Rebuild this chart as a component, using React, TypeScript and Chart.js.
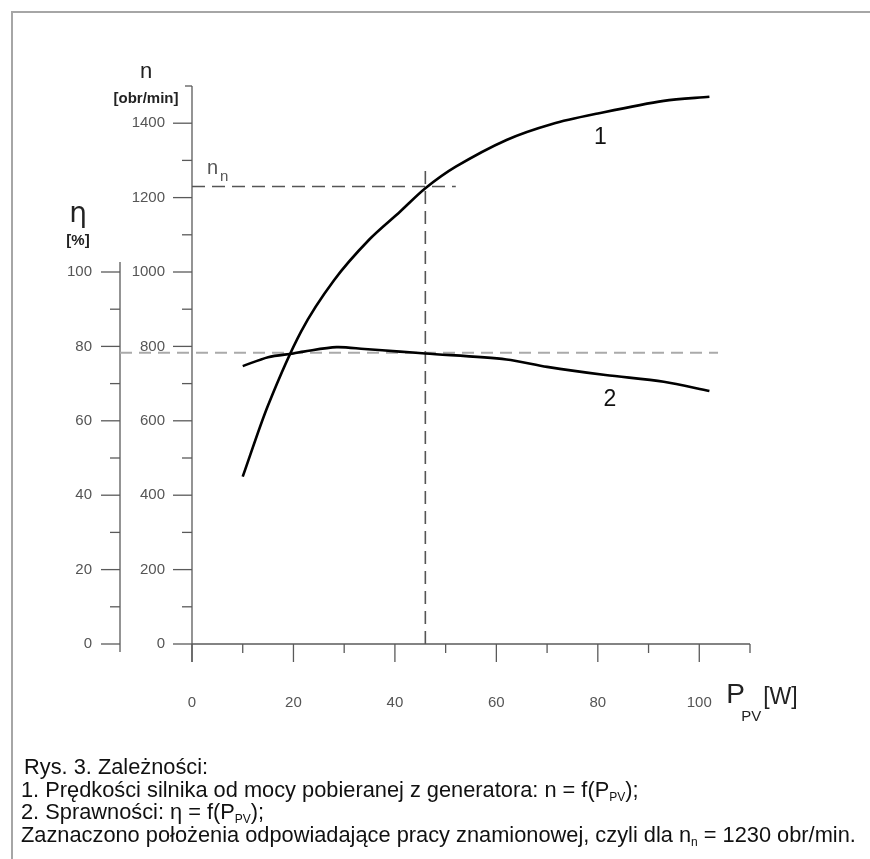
import React, { useEffect, useRef } from "react";
import { Chart, registerables } from "chart.js";

Chart.register(...registerables);

// ---- data ----
// curve 1: motor speed n [obr/min] vs P_PV [W]
const powerN = [10, 15, 21.5, 28, 35, 41, 46, 52, 62, 71, 80, 93, 102];
const speedN = [450, 642, 840, 978, 1088, 1162, 1225, 1283, 1355, 1398, 1426, 1460, 1471];
// curve 2: efficiency eta [%] vs P_PV [W]
const powerEta = [10, 15, 20, 22, 28.5, 34, 41, 46, 62, 70, 81.5, 93, 102];
const efficiency = [74.7, 77.1, 78.1, 78.6, 79.8, 79.3, 78.6, 78.1, 76.5, 74.5, 72.3, 70.5, 68.0];

// tick labels
const xMajorTicks = [0, 20, 40, 60, 80, 100];
const xMinorTicks = [10, 30, 50, 70, 90, 110];
const nMajorTicks = [0, 200, 400, 600, 800, 1000, 1200, 1400];
const nMinorTicks = [100, 300, 500, 700, 900, 1100, 1300];
const etaMajorTicks = [0, 20, 40, 60, 80, 100];
const etaMinorTicks = [10, 30, 50, 70, 90];

// nominal operating point
const nNominal = 1230;
const pNominal = 46;
const pNominalLineEnd = 52;
const nNominalLineTop = 1290;
const etaNominal = 78.3;
const etaLineEnd = 103.7;

const AXIS_COLOR = "#5a5a5a";
const LABEL_COLOR = "#555";
const FONT = '"Liberation Sans", Arial, sans-serif';

const axesPlugin = {
  id: "customAxes",
  beforeDatasetsDraw(chart: any) {
    const ctx = chart.ctx as CanvasRenderingContext2D;
    const xs = chart.scales.x;
    const ys = chart.scales.y;
    const es = chart.scales.yEta;
    const x0 = xs.getPixelForValue(0);
    const y0 = ys.getPixelForValue(0);
    const etaX = x0 - 72;

    ctx.save();
    ctx.strokeStyle = AXIS_COLOR;
    ctx.lineWidth = 1.3;
    const line = (ax: number, ay: number, bx: number, by: number) => {
      ctx.beginPath();
      ctx.moveTo(ax, ay);
      ctx.lineTo(bx, by);
      ctx.stroke();
    };

    // x axis
    line(x0, y0, xs.getPixelForValue(110), y0);
    xMajorTicks.forEach((v) => line(xs.getPixelForValue(v), y0, xs.getPixelForValue(v), y0 + 18));
    xMinorTicks.forEach((v) => line(xs.getPixelForValue(v), y0, xs.getPixelForValue(v), y0 + 9));

    // n axis
    const nTop = ys.getPixelForValue(1500);
    line(x0, y0 + 18, x0, nTop);
    line(x0 - 7, nTop, x0, nTop);
    nMajorTicks.forEach((v) => line(x0 - 19, ys.getPixelForValue(v), x0, ys.getPixelForValue(v)));
    nMinorTicks.forEach((v) => line(x0 - 10, ys.getPixelForValue(v), x0, ys.getPixelForValue(v)));

    // eta axis
    line(etaX, y0 + 8, etaX, es.getPixelForValue(102.7));
    etaMajorTicks.forEach((v) => line(etaX - 19, es.getPixelForValue(v), etaX, es.getPixelForValue(v)));
    etaMinorTicks.forEach((v) => line(etaX - 10, es.getPixelForValue(v), etaX, es.getPixelForValue(v)));

    // tick labels
    ctx.fillStyle = LABEL_COLOR;
    ctx.font = `15px ${FONT}`;
    ctx.textBaseline = "middle";
    ctx.textAlign = "center";
    xMajorTicks.forEach((v) => ctx.fillText(String(v), xs.getPixelForValue(v), y0 + 59));
    ctx.textAlign = "right";
    nMajorTicks.forEach((v) => ctx.fillText(String(v), x0 - 27, ys.getPixelForValue(v)));
    etaMajorTicks.forEach((v) => ctx.fillText(String(v), etaX - 28, es.getPixelForValue(v)));

    // reference dashed lines
    ctx.strokeStyle = "#555";
    ctx.lineWidth = 1.6;
    ctx.setLineDash([13, 7]);
    line(x0, ys.getPixelForValue(nNominal), xs.getPixelForValue(pNominalLineEnd), ys.getPixelForValue(nNominal));
    line(xs.getPixelForValue(pNominal), y0, xs.getPixelForValue(pNominal), ys.getPixelForValue(nNominalLineTop));
    ctx.strokeStyle = "#aaa";
    ctx.lineWidth = 2;
    ctx.setLineDash([12, 7]);
    line(etaX, es.getPixelForValue(etaNominal), xs.getPixelForValue(etaLineEnd), es.getPixelForValue(etaNominal));
    ctx.setLineDash([]);

    // axis titles
    ctx.fillStyle = "#222";
    ctx.textAlign = "center";
    ctx.textBaseline = "middle";
    ctx.font = `22px ${FONT}`;
    ctx.fillText("n", x0 - 46, nTop - 14);
    ctx.font = `bold 15px ${FONT}`;
    ctx.fillText("[obr/min]", x0 - 46, nTop + 13);
    ctx.font = `28px "DejaVu Sans", ${FONT}`;
    ctx.fillText("η", etaX - 42, es.getPixelForValue(115.5));
    ctx.font = `bold 15px ${FONT}`;
    ctx.fillText("[%]", etaX - 42, es.getPixelForValue(108.5));

    // n_n label
    ctx.fillStyle = LABEL_COLOR;
    ctx.textAlign = "left";
    ctx.textBaseline = "alphabetic";
    ctx.font = `20px ${FONT}`;
    ctx.fillText("n", x0 + 15, ys.getPixelForValue(nNominal) - 12);
    ctx.font = `15px ${FONT}`;
    ctx.fillText("n", x0 + 28, ys.getPixelForValue(nNominal) - 5);

    // curve numbers
    ctx.fillStyle = "#111";
    ctx.textAlign = "center";
    ctx.textBaseline = "middle";
    ctx.font = `23px ${FONT}`;
    ctx.fillText("1", xs.getPixelForValue(80.5), ys.getPixelForValue(1362));
    ctx.fillText("2", xs.getPixelForValue(82.4), es.getPixelForValue(65.6));

    // P_PV [W]
    ctx.fillStyle = "#222";
    ctx.textAlign = "left";
    ctx.textBaseline = "alphabetic";
    ctx.font = `28px ${FONT}`;
    const px = xs.getPixelForValue(105.3);
    ctx.fillText("P", px, y0 + 59);
    ctx.font = `15px ${FONT}`;
    ctx.fillText("PV", px + 15, y0 + 77);
    ctx.font = `23px ${FONT}`;
    ctx.fillText("[W]", px + 37, y0 + 60);
    ctx.restore();
  },
};

function ChartCanvas() {
  const ref = useRef<HTMLCanvasElement | null>(null);
  useEffect(() => {
    if (!ref.current) return;
    const chart = new Chart(ref.current, {
      type: "line",
      data: {
        datasets: [
          {
            label: "n = f(P_PV)",
            data: powerN.map((x, i) => ({ x, y: speedN[i] })),
            yAxisID: "y",
            borderColor: "#000",
            borderWidth: 2.6,
            pointRadius: 0,
            tension: 0.3,
            fill: false,
          },
          {
            label: "η = f(P_PV)",
            data: powerEta.map((x, i) => ({ x, y: efficiency[i] })),
            yAxisID: "yEta",
            borderColor: "#000",
            borderWidth: 2.6,
            pointRadius: 0,
            tension: 0.3,
            fill: false,
          },
        ],
      },
      options: {
        responsive: false,
        maintainAspectRatio: false,
        animation: false,
        devicePixelRatio: 1,
        layout: { padding: { left: 192, right: 120, top: 86, bottom: 215 } },
        plugins: { legend: { display: false }, title: { display: false }, tooltip: { enabled: false } },
        events: [],
        scales: {
          x: { type: "linear", min: 0, max: 110, display: false },
          y: { type: "linear", min: 0, max: 1500, display: false },
          yEta: { type: "linear", min: 0, max: 150, display: false },
        },
      },
      plugins: [axesPlugin],
    });
    return () => chart.destroy();
  }, []);
  return <canvas ref={ref} width={870} height={859} style={{ position: "absolute", left: 0, top: 0 }} />;
}

const captionStyle: React.CSSProperties = {
  position: "absolute",
  fontFamily: FONT,
  fontSize: 21.8,
  lineHeight: "23px",
  color: "#111",
  whiteSpace: "nowrap",
};
const sub: React.CSSProperties = { fontSize: 12, verticalAlign: "-4px" };

export default function App() {
  return (
    <div style={{ position: "absolute", left: 0, top: 0, width: 870, height: 859, background: "#fff", overflow: "hidden" }}>
      <div
        style={{
          position: "absolute",
          left: 11,
          top: 11,
          width: 900,
          height: 900,
          borderTop: "2px solid #a6a6a6",
          borderLeft: "2px solid #a6a6a6",
        }}
      />
      <ChartCanvas />
      <div style={{ ...captionStyle, left: 24, top: 755 }}>Rys. 3. Zależności:</div>
      <div style={{ ...captionStyle, left: 21, top: 778 }}>
        1. Prędkości silnika od mocy pobieranej z generatora: n = f(P<span style={sub}>PV</span>);
      </div>
      <div style={{ ...captionStyle, left: 21, top: 800 }}>
        2. Sprawności: η = f(P<span style={sub}>PV</span>);
      </div>
      <div style={{ ...captionStyle, left: 21, top: 823 }}>
        Zaznaczono położenia odpowiadające pracy znamionowej, czyli dla n<span style={sub}>n</span> = 1230 obr/min.
      </div>
    </div>
  );
}
